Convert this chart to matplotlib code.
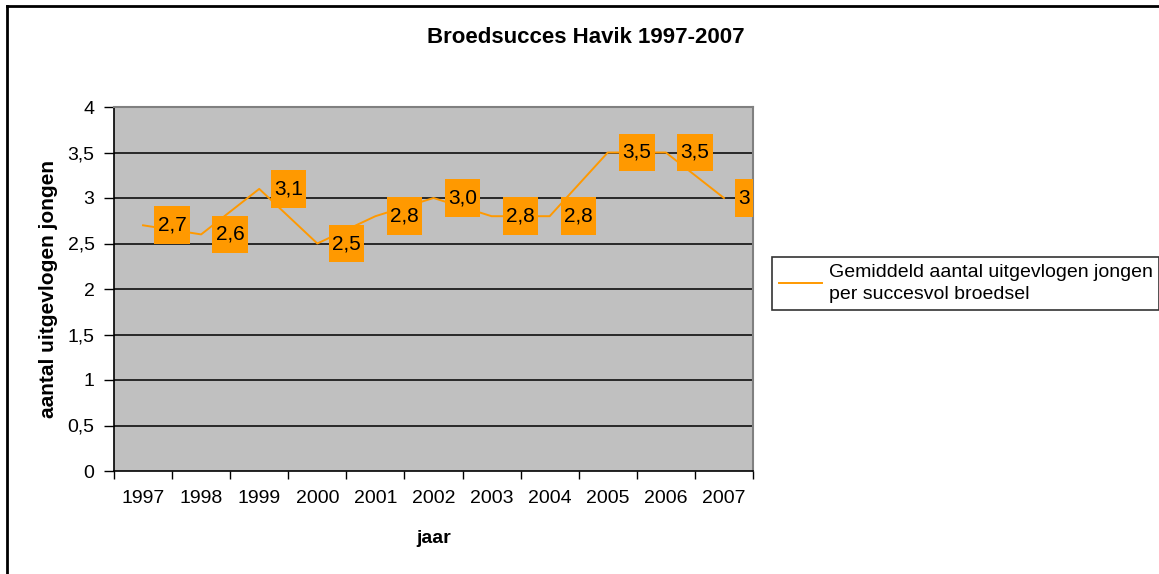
import matplotlib
matplotlib.use("Agg")
import matplotlib.pyplot as plt
from matplotlib.path import Path
from matplotlib.lines import Line2D

plt.rcParams['font.family'] = ['Liberation Sans', 'DejaVu Sans']

years = ["1997", "1998", "1999", "2000", "2001", "2002",
         "2003", "2004", "2005", "2006", "2007"]
succes = [2.7, 2.6, 3.1, 2.5, 2.8, 3.0, 2.8, 2.8, 3.5, 3.5, 3.0]
value_labels = ["2,7", "2,6", "3,1", "2,5", "2,8", "3,0", "2,8", "2,8", "3,5", "3,5", "3"]
yticks = [0, 0.5, 1, 1.5, 2, 2.5, 3, 3.5, 4]
ytick_labels = ["0", "0,5", "1", "1,5", "2", "2,5", "3", "3,5", "4"]

orange = "#FF9900"


def tall_box(x0, y0, width, height, mutation_size):
    # square box, less padding left/right than top/bottom (Excel look)
    px = 0.16 * mutation_size
    py = 0.45 * mutation_size
    x0, x1 = x0 - px, x0 + width + px
    y0, y1 = y0 - py, y0 + height + py
    return Path([(x0, y0), (x1, y0), (x1, y1), (x0, y1), (x0, y0)], closed=True)


fig = plt.figure(figsize=(11.59, 5.74), dpi=100)
ax = fig.add_axes([114 / 1159, 1 - 471 / 574, 639 / 1159, 364 / 574])
ax.set_facecolor("#C0C0C0")

x = list(range(len(years)))
line, = ax.plot(x, succes, color=orange, lw=1.4, zorder=3,
                label="Gemiddeld aantal uitgevlogen jongen\nper succesvol broedsel")

for i, (v, lab) in enumerate(zip(succes, value_labels)):
    last = i == len(years) - 1
    ax.annotate(lab, (i + 0.5, v), xytext=(-2.5 if last else 0, 0), textcoords="offset points",
                ha="right" if last else "center", va="center", fontsize=15, zorder=4,
                bbox=dict(boxstyle=tall_box, fc=orange, ec="none"))

ax.set_xlim(-0.5, len(years) - 0.5)
ax.set_ylim(0, 4)
ax.set_yticks(yticks, labels=ytick_labels)
ax.set_xticks([i - 0.5 for i in range(len(years) + 1)], labels=[])
ax.set_xticks(x, labels=years, minor=True)
ax.tick_params(axis="x", which="major", direction="out", length=6, width=1, color="black")
ax.tick_params(axis="x", which="minor", length=0, pad=14, labelsize=14)
ax.tick_params(axis="y", direction="out", length=7, width=1, pad=7, labelsize=14)

for yv in yticks[1:-1]:
    ax.axhline(yv, color="black", lw=1.1, zorder=1)

ax.spines["left"].set_color("black")
ax.spines["bottom"].set_color("black")
ax.spines["left"].set_linewidth(1.2)
ax.spines["bottom"].set_linewidth(1.2)
ax.spines["top"].set_color("#808080")
ax.spines["right"].set_color("#808080")
ax.spines["top"].set_linewidth(1.5)
ax.spines["right"].set_linewidth(1.5)

ax.set_ylabel("aantal uitgevlogen jongen", fontsize=15, fontweight="bold")
ax.yaxis.set_label_coords(-0.087, 0.5)
ax.set_xlabel("jaar", fontsize=14, fontweight="bold")
ax.xaxis.set_label_coords(0.5, -0.162)

fig.text(586 / 1159, 1 - 37.7 / 574, "Broedsucces Havik 1997-2007",
         ha="center", va="center", fontsize=16, fontweight="bold")

leg = fig.legend(handles=[line], loc="upper left", bbox_to_anchor=(772 / 1159, 1 - 257 / 574),
                 frameon=True, fancybox=False, shadow=False, fontsize=14,
                 handlelength=2.2, handletextpad=0.36, borderpad=0.35, borderaxespad=0)
leg.get_texts()[0].set_linespacing(1.4)
leg.get_frame().set_edgecolor("black")
leg.get_frame().set_linewidth(1.2)

# outer chart border (top and left edges visible)
fig.add_artist(Line2D([7 / 1159, 1.0], [1 - 6 / 574, 1 - 6 / 574], color="black", lw=2,
                      transform=fig.transFigure))
fig.add_artist(Line2D([7 / 1159, 7 / 1159], [0, 1 - 6 / 574], color="black", lw=2,
                      transform=fig.transFigure))

fig.savefig("out.png", dpi=100)
